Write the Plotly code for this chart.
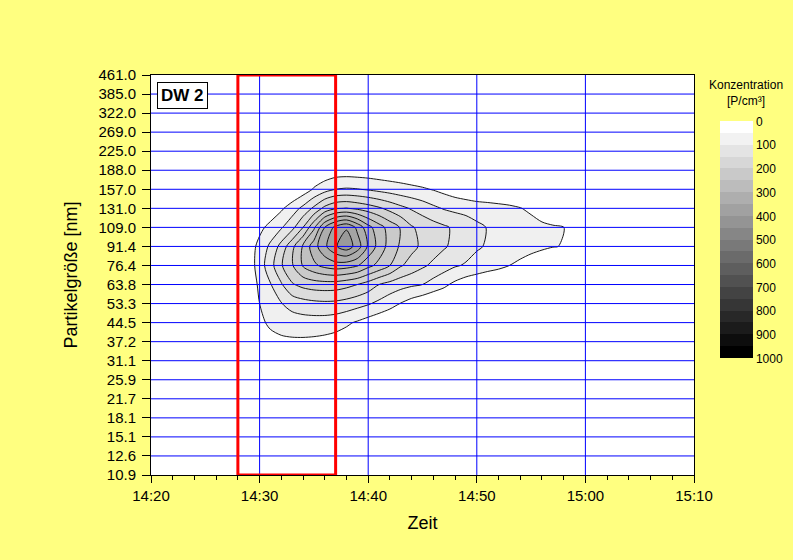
import plotly.graph_objects as go

# ---------------- data ----------------
size_labels = ["10.9", "12.6", "15.1", "18.1", "21.7", "25.9", "31.1", "37.2", "44.5",
               "53.3", "63.8", "76.4", "91.4", "109.0", "131.0", "157.0", "188.0",
               "225.0", "269.0", "322.0", "385.0", "461.0"]

time_ticks = ["14:20", "14:30", "14:40", "14:50", "15:00", "15:10"]

times = ["14:28", "14:29", "14:30", "14:31", "14:32", "14:33", "14:34", "14:35", "14:36",
         "14:37", "14:38", "14:39", "14:40", "14:41", "14:42", "14:43", "14:44", "14:45",
         "14:46", "14:47", "14:48", "14:49", "14:50", "14:51", "14:52", "14:53", "14:54",
         "14:55", "14:56", "14:57", "14:58", "14:59", "15:00"]

conc_sizes = ["31.1", "37.2", "44.5", "53.3", "63.8", "76.4", "91.4", "109.0",
              "131.0", "157.0", "188.0", "225.0"]

# concentration [P/cm³] per size bin, one value per entry of `times`
conc_31_1 = [0, 0, 0, 0, 0, 0, 0, 0, 0, 0, 0, 0, 0, 0, 0, 0, 0, 0, 0, 0, 0, 0, 0, 0, 0, 0, 0, 0, 0, 0, 0, 0, 0]
conc_37_2 = [0, 0, 15, 32, 40, 42, 42, 40, 36, 30, 22, 12, 5, 0, 0, 0, 0, 0, 0, 0, 0, 0, 0, 0, 0, 0, 0, 0, 0, 0, 0, 0, 0]
conc_44_5 = [0, 5, 38, 60, 70, 76, 78, 78, 76, 70, 58, 44, 28, 14, 5, 0, 0, 0, 0, 0, 0, 0, 0, 0, 0, 0, 0, 0, 0, 0, 0, 0, 0]
conc_53_3 = [0, 15, 50, 75, 98, 118, 130, 137, 140, 138, 130, 118, 105, 88, 68, 48, 28, 12, 0, 0, 0, 0, 0, 0, 0, 0, 0, 0, 0, 0, 0, 0, 0]
conc_63_8 = [0, 15, 60, 97, 145, 195, 215, 225, 228, 226, 215, 200, 178, 150, 132, 118, 108, 100, 80, 60, 38, 20, 8, 0, 0, 0, 0, 0, 0, 0, 0, 0, 0]
conc_76_4 = [0, 20, 75, 130, 195, 245, 305, 340, 365, 378, 372, 355, 315, 285, 250, 205, 180, 158, 140, 122, 105, 95, 85, 73, 62, 50, 38, 25, 12, 0, 0, 0, 0]
conc_91_4 = [0, 18, 68, 110, 168, 236, 307, 378, 439, 495, 530, 478, 392, 330, 280, 242, 214, 190, 172, 155, 138, 122, 105, 96, 88, 80, 74, 66, 59, 52, 48, 15, 0]
conc_109_0 = [0, 0, 35, 68, 95, 135, 200, 290, 400, 465, 495, 438, 367, 320, 280, 246, 205, 185, 170, 157, 142, 126, 110, 98, 91, 84, 76, 70, 62, 56, 51, 14, 0]
conc_131_0 = [0, 0, 0, 10, 42, 75, 113, 160, 215, 245, 252, 240, 225, 207, 185, 163, 145, 128, 110, 96, 88, 84, 78, 72, 66, 60, 52, 40, 20, 5, 0, 0, 0]
conc_157_0 = [0, 0, 0, 0, 0, 0, 22, 55, 80, 100, 105, 102, 95, 86, 78, 70, 63, 56, 47, 35, 22, 10, 0, 0, 0, 0, 0, 0, 0, 0, 0, 0, 0]
conc_188_0 = [0, 0, 0, 0, 0, 0, 0, 5, 12, 20, 22, 20, 18, 15, 12, 10, 5, 0, 0, 0, 0, 0, 0, 0, 0, 0, 0, 0, 0, 0, 0, 0, 0]
conc_225_0 = [0, 0, 0, 0, 0, 0, 0, 0, 0, 0, 0, 0, 0, 0, 0, 0, 0, 0, 0, 0, 0, 0, 0, 0, 0, 0, 0, 0, 0, 0, 0, 0, 0]

colorbar_ticks = [0, 100, 200, 300, 400, 500, 600, 700, 800, 900, 1000]
highlight_window = ["14:28", "14:37"]
panel_label = "DW 2"

# ---------------- build ----------------
DAY = "2024-01-01 "
def ts(hm):
    return DAY + hm + ":00"

z = [conc_31_1, conc_37_2, conc_44_5, conc_53_3, conc_63_8, conc_76_4, conc_91_4,
     conc_109_0, conc_131_0, conc_157_0, conc_188_0, conc_225_0]
y_idx = [size_labels.index(s) for s in conc_sizes]
x_ts = [ts(t) for t in times]

LEVEL = 50
NBANDS = 20

def gray(v):
    v = max(0, min(255, int(round(v))))
    return "rgb(%d,%d,%d)" % (v, v, v)

# fill colours of the contour bands (band k = k*50 .. k*50+50)
fill_scale = []
for k in range(NBANDS + 1):
    g = 255 if k == 0 else 249 - 9.5 * k
    fill_scale.append([k / NBANDS, gray(g)])

# stepped colour scale for the legend bar (0 at top, 1000 at bottom)
bar_scale = []
for k in range(NBANDS - 1, -1, -1):
    c = gray(255 * (1 - k / (NBANDS - 1)))
    lo = (1000 - LEVEL * k - LEVEL) / 1000
    hi = (1000 - LEVEL * k) / 1000
    bar_scale.append([lo, c])
    bar_scale.append([hi, c])

fig = go.Figure()

fig.add_trace(go.Contour(
    x=x_ts, y=y_idx, z=z,
    autocontour=False,
    contours=dict(start=LEVEL, end=1000, size=LEVEL, coloring="fill", showlines=True),
    colorscale=fill_scale,
    line=dict(color="black", width=0.9, smoothing=0.8),
    showscale=False,
    hoverinfo="skip",
))

# legend colour bar
fig.add_trace(go.Scatter(
    x=[None], y=[None], mode="markers", showlegend=False, hoverinfo="skip",
    marker=dict(
        color=[0], cmin=-1000, cmax=0, colorscale=bar_scale, showscale=True,
        colorbar=dict(
            x=(720 - 151) / 543, xanchor="left", xpad=0,
            y=(475 - 121.5) / 400, yanchor="top", ypad=0,
            len=236.5, lenmode="pixels", thickness=33,
            outlinewidth=0, ticks="",
            tickvals=[-v for v in colorbar_ticks],
            ticktext=[str(v) for v in colorbar_ticks],
            tickfont=dict(size=12, color="black"),
        ),
    ),
))

shapes = []
# horizontal grid lines (drawn above the contour fill)
for i in range(1, len(size_labels) - 1):
    shapes.append(dict(type="line", xref="paper", yref="y", x0=0, x1=1, y0=i, y1=i,
                       line=dict(color="#0000ff", width=1), layer="above"))
# vertical grid lines
for t in time_ticks[1:-1]:
    shapes.append(dict(type="line", xref="x", yref="paper", x0=ts(t), x1=ts(t), y0=0, y1=1,
                       line=dict(color="#0000ff", width=1), layer="above"))
# red highlight window
shapes.append(dict(type="rect", xref="x", yref="y",
                   x0=ts(highlight_window[0]), x1=ts(highlight_window[1]),
                   y0=0, y1=len(size_labels) - 1,
                   line=dict(color="#ff0000", width=3), fillcolor="rgba(0,0,0,0)", layer="above"))

fig.update_layout(
    width=793, height=560,
    paper_bgcolor="#ffff80", plot_bgcolor="white",
    margin=dict(l=151, r=99, t=75, b=85, autoexpand=False),
    font=dict(family="Liberation Sans, Arial, sans-serif", size=15, color="black"),
    showlegend=False,
    shapes=shapes,
    annotations=[
        dict(text="<b>%s</b>" % panel_label, xref="paper", yref="paper",
             x=0.011, y=0.982, xanchor="left", yanchor="top", showarrow=False,
             font=dict(size=17, color="black"), bgcolor="white",
             bordercolor="black", borderwidth=1, borderpad=3),
        dict(text="Konzentration<br>[P/cm³]", xref="paper", yref="paper",
             x=(746 - 151) / 543, y=(475 - 93) / 400, xanchor="center", yanchor="middle",
             showarrow=False, font=dict(size=12, color="black")),
    ],
    xaxis=dict(
        type="date", range=[ts(time_ticks[0]), ts(time_ticks[-1])],
        tickvals=[ts(t) for t in time_ticks], ticktext=time_ticks,
        ticks="outside", ticklen=7, tickwidth=1, tickcolor="black",
        ticklabelstandoff=0,
        minor=dict(dtick=120000, tick0=ts(time_ticks[0]), ticks="outside", ticklen=4,
                   tickcolor="black", showgrid=False),
        showline=True, linecolor="black", linewidth=1, mirror=True,
        showgrid=False, zeroline=False,
        title=dict(text="Zeit", font=dict(size=18), standoff=13),
        tickfont=dict(size=15),
    ),
    yaxis=dict(
        range=[0, len(size_labels) - 1],
        tickvals=list(range(len(size_labels))), ticktext=size_labels,
        ticks="outside", ticklen=8, tickwidth=1, tickcolor="black",
        ticklabelstandoff=3,
        showline=True, linecolor="black", linewidth=1, mirror=True,
        showgrid=False, zeroline=False,
        title=dict(text="Partikelgröße [nm]", font=dict(size=18), standoff=16),
        tickfont=dict(size=15),
    ),
)

fig.write_html("out.html", config={"displayModeBar": False},
               post_script="document.body.style.margin='0';document.body.style.overflow='hidden';")
